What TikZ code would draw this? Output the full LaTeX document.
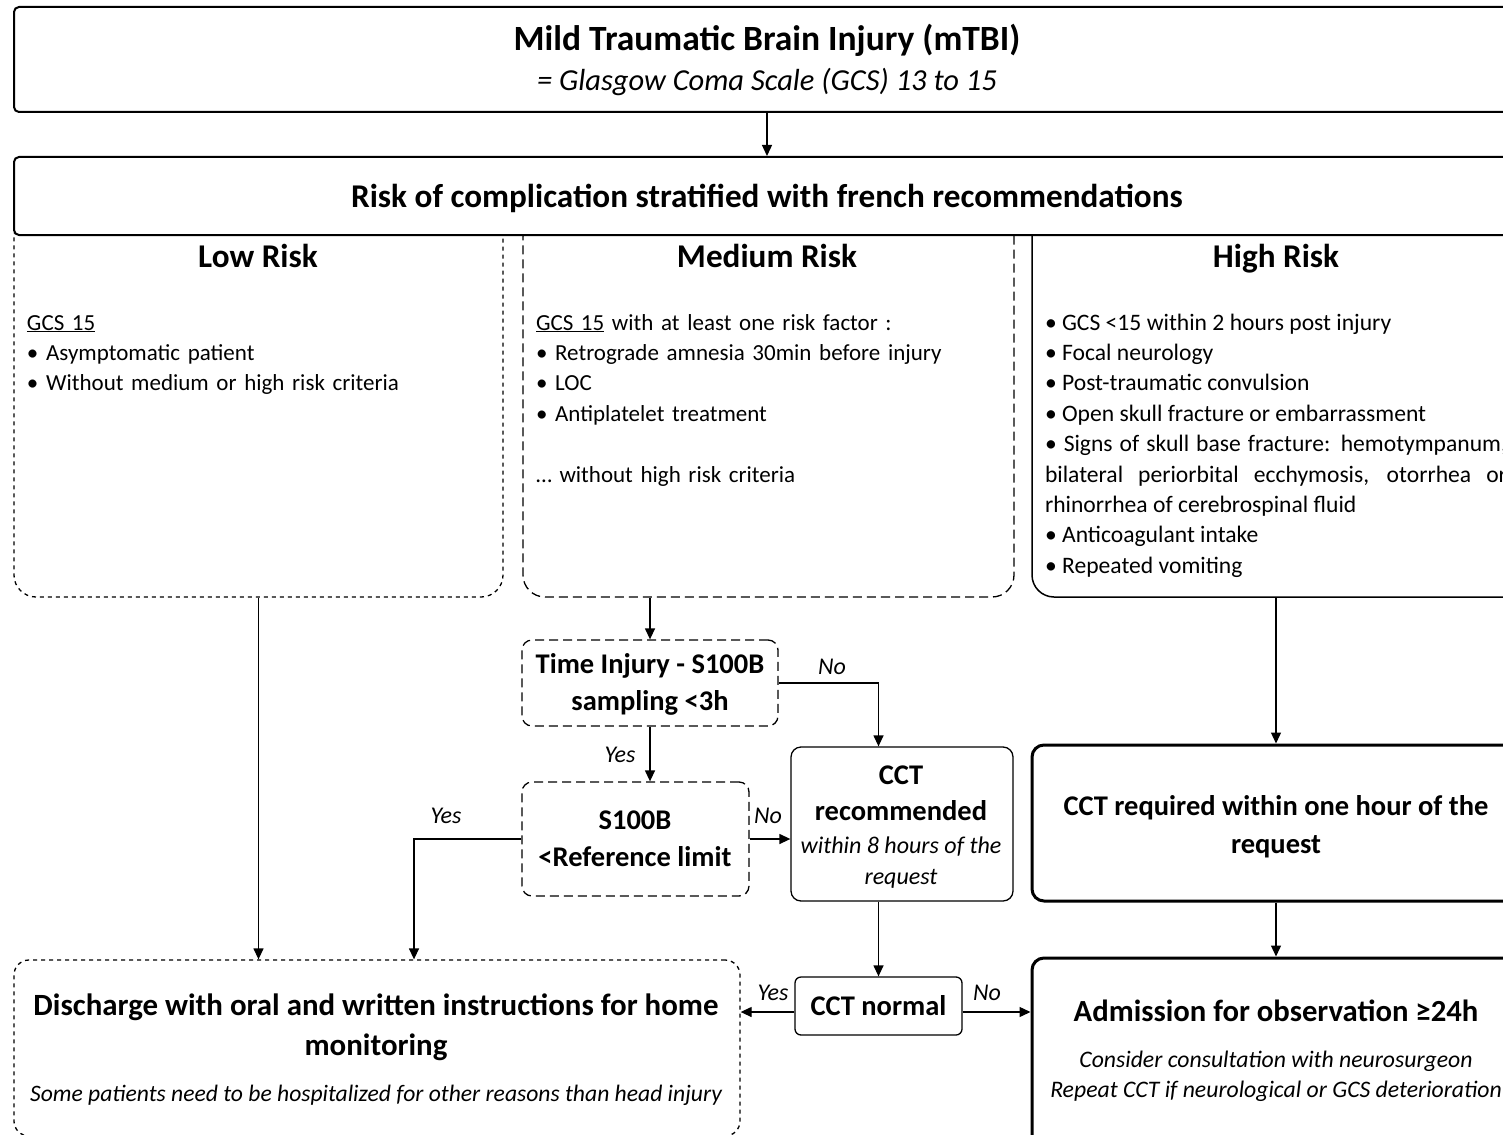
\documentclass[tikz,border=0pt]{standalone}
\usepackage{fontspec}
\setmainfont{Carlito}
\usetikzlibrary{arrows.meta,calc}
\setlength{\parindent}{0pt}
\newcommand{\fsz}[2]{\fontsize{#1}{#2}\selectfont}
\begin{document}
\begin{tikzpicture}[x=1pt,y=-1pt,
  arr/.style={-{Triangle[length=11pt,width=10pt]}, line width=1.3pt},
  frame/.style={draw, inner sep=0pt, rectangle},
  txt/.style={inner sep=0pt, outer sep=0pt},
  lbl/.style={txt, anchor=base, font=\itshape\fsz{24}{28}},
  thinbox/.style={frame, line width=1.3pt},
  shortdash/.style={dash pattern=on 4pt off 4pt},
  longdash/.style={dash pattern=on 9pt off 5pt},
  bold/.style={txt, anchor=base, align=center},
]
\useasboundingbox (0,0) rectangle (1503,1134);
\clip (0,0) rectangle (1503,1134);

% top box
\node[frame, line width=2pt, rounded corners=5pt, minimum width=1516pt, minimum height=105pt] (top) at (772,59.5) {};
\node[txt, anchor=base, font=\bfseries\fsz{35.5}{40}] (title) at (767,51) {Mild Traumatic Brain Injury (mTBI)};
\node[txt, anchor=base, font=\itshape\fsz{30.5}{34}] (subtitle) at (767,91) {= Glasgow Coma Scale (GCS) 13 to 15};

% panels
\node[thinbox, shortdash, rounded corners=22pt, minimum width=489pt, minimum height=382pt] (low) at (258.5,406) {};
\node[thinbox, longdash, rounded corners=22pt, minimum width=491pt, minimum height=382pt] (med) at (768.5,406) {};
\node[frame, line width=1.5pt, rounded corners=22pt, minimum width=498pt, minimum height=382pt] (high) at (1281,406) {};

% risk box
\node[frame, fill=white, line width=2pt, rounded corners=5pt, minimum width=1516pt, minimum height=78pt] (risk) at (772,196) {};
\node[txt, anchor=base, font=\bfseries\fsz{33.2}{38}] (risktxt) at (767,207) {Risk of complication stratified with french recommendations};

% panel heads
\node[txt, anchor=base, font=\bfseries\fsz{33.2}{36}] (lowhead) at (258,267) {Low Risk};
\node[txt, anchor=base, font=\bfseries\fsz{33.2}{36}] (medhead) at (767,267) {Medium Risk};
\node[txt, anchor=base, font=\bfseries\fsz{33.2}{36}] (highhead) at (1276,267) {High Risk};

% lists
\node[txt, anchor=base west, text width=460pt, align=left, font=\fsz{23}{30.4}] (lowlist) at (27,330)
  {\underline{GCS 15}\par • Asymptomatic patient\par • Without medium or high risk criteria};
\node[txt, anchor=base west, text width=460pt, align=left, font=\fsz{23}{30.4}] (medlist) at (536,330)
  {\underline{GCS 15} with at least one risk factor :\par • Retrograde amnesia 30min before injury\par • LOC\par • Antiplatelet treatment\par\mbox{}\par … without high risk criteria};
\node[txt, anchor=base west, text width=462pt, align=justify, font=\fsz{23.6}{30.4}] (highlist) at (1045,330)
  {• GCS <15 within 2 hours post injury\par • Focal neurology\par • Post-traumatic convulsion\par • Open skull fracture or embarrassment\par • Signs of skull base fracture: hemotympanum,\linebreak bilateral periorbital ecchymosis, otorrhea or\linebreak rhinorrhea of cerebrospinal fluid\par • Anticoagulant intake\par • Repeated vomiting};

% flow boxes
\node[thinbox, longdash, rounded corners=10pt, minimum width=256pt, minimum height=86pt] (time) at (650,683) {};
\node[bold, font=\bfseries\fsz{28.5}{37}] (timetxt) at (650,710) {Time Injury - S100B\\sampling <3h};

\node[thinbox, longdash, rounded corners=10pt, minimum width=227pt, minimum height=114pt] (s100b) at (635.5,839) {};
\node[bold, font=\bfseries\fsz{28.5}{37}] (s100btxt) at (635,866) {S100B\\<Reference limit};

\node[thinbox, rounded corners=10pt, minimum width=222pt, minimum height=154pt] (cctrec) at (902,824) {};
\node[bold, font=\bfseries\fsz{28.5}{36}] (cctrectxt) at (901,820) {CCT\\recommended};
\node[bold, font=\itshape\fsz{24}{31}] (cctrecsub) at (901,884) {within 8 hours of the\\request};

\node[thinbox, rounded corners=6pt, minimum width=167pt, minimum height=58pt] (cctnorm) at (878.5,1006) {};
\node[bold, font=\bfseries\fsz{28.5}{32}] (cctnormtxt) at (878.5,1015) {CCT normal};

\node[frame, line width=3pt, rounded corners=12pt, minimum width=498pt, minimum height=156pt] (cctreq) at (1281,823) {};
\node[bold, font=\bfseries\fsz{28.5}{38}] (cctreqtxt) at (1276,853) {CCT required within one hour of the\\request};

\node[frame, line width=3pt, rounded corners=12pt, minimum width=498pt, minimum height=192pt] (adm) at (1281,1054) {};
\node[bold, font=\bfseries\fsz{30.7}{34}] (admtxt) at (1276,1021) {Admission for observation ≥24h};
\node[bold, font=\itshape\fsz{23.7}{30}] (admsub) at (1276,1097) {Consider consultation with neurosurgeon\\Repeat CCT if neurological or GCS deterioration};

\node[thinbox, shortdash, rounded corners=15pt, minimum width=726pt, minimum height=176pt] (dis) at (377,1048) {};
\node[bold, font=\bfseries\fsz{30.9}{40}] (distxt) at (376,1055) {Discharge with oral and written instructions for home\\monitoring};
\node[bold, font=\itshape\fsz{23.6}{28}] (dissub) at (376,1101) {Some patients need to be hospitalized for other reasons than head injury};

% connectors
\coordinate (hx) at (1276,0);
\coordinate (yx) at (414,0);
\draw[arr] (top.south -| title) -- (risk.north -| title);
\draw[arr] (low.south) -- (low.south |- dis.north);
\draw[arr] (med.south -| time) -- (time.north);
\draw[arr] (time.south) -- (time.south |- s100b.north);
\draw[arr] (time.east) -| (cctrec.north -| cctnorm.north);
\draw[arr] (s100b.east) -- (s100b.east -| cctrec.west);
\draw[arr] (s100b.west) -| (dis.north -| yx);
\draw[arr] (cctrec.south -| cctnorm.north) -- (cctnorm.north);
\coordinate (yy) at ($(cctnorm.west)+(0,6)$);
\coordinate (ny) at ($(cctnorm.east)+(0,6)$);
\draw[arr] (yy) -- (yy -| dis.east);
\draw[arr] (ny) -- (ny -| adm.west);
\draw[arr] (high.south -| hx) -- (cctreq.north -| hx);
\draw[arr] (cctreq.south -| hx) -- (adm.north -| hx);

% labels
\node[lbl] (no1) at (832,674) {No};
\node[lbl] (yes1) at (620,762) {Yes};
\node[lbl] (no2) at (768,823) {No};
\node[lbl] (yes2) at (446,823) {Yes};
\node[lbl] (yes3) at (773,1000) {Yes};
\node[lbl] (no3) at (987,1000) {No};
\end{tikzpicture}
\end{document}
